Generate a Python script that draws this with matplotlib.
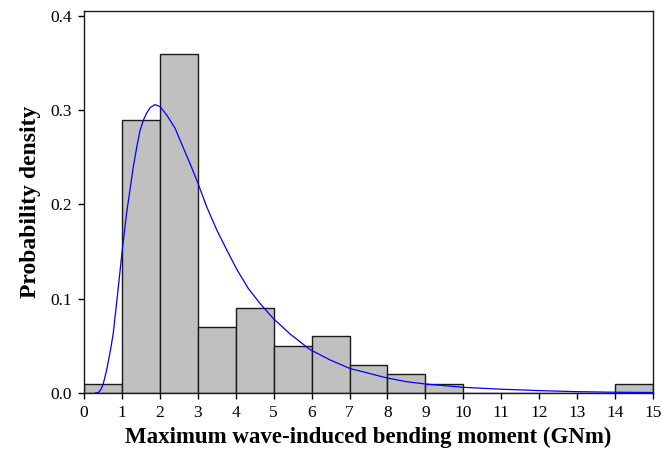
import matplotlib
matplotlib.use("Agg")
import matplotlib.pyplot as plt
import numpy as np

# Histogram of maximum wave-induced bending moment (GNm)
bin_edges = [0, 1, 2, 3, 4, 5, 6, 7, 8, 9, 10, 11, 12, 13, 14, 15]
density = [0.01, 0.29, 0.36, 0.07, 0.09, 0.05, 0.06, 0.03, 0.02, 0.01,
           0.0, 0.0, 0.0, 0.0, 0.01]

# Fitted probability density curve
fit_x = [0.30, 0.38, 0.45, 0.51, 0.60, 0.70, 0.77, 0.88, 1.01, 1.12, 1.21, 1.30,
         1.40, 1.48, 1.57, 1.65, 1.75, 1.87, 2.00, 2.18, 2.40, 2.62, 2.84,
         3.00, 3.23, 3.50, 3.76, 4.03, 4.33, 4.64, 4.99, 5.45,
         5.96, 6.49, 7.01, 7.50, 7.98, 8.50, 8.99, 10.0, 11.01, 12.02,
         12.99, 14.0, 15.0]
fit_y = [0.0, 0.0005, 0.004, 0.010, 0.025, 0.046, 0.063, 0.103, 0.152, 0.190, 0.215, 0.240,
         0.263, 0.279, 0.290, 0.297, 0.303, 0.306, 0.304, 0.295, 0.281, 0.260, 0.239,
         0.223, 0.198, 0.173, 0.152, 0.131, 0.111, 0.095, 0.079, 0.062,
         0.046, 0.035, 0.026, 0.021, 0.016, 0.012, 0.0096, 0.006, 0.004, 0.0025,
         0.0014, 0.0008, 0.0005]

x_ticks = list(range(0, 16))
y_ticks = [0.0, 0.1, 0.2, 0.3, 0.4]

plt.rcParams['font.family'] = ['Liberation Serif', 'DejaVu Serif']

fig = plt.figure(figsize=(6.62, 4.55), dpi=100)
ax = fig.add_axes([0.1269, 0.1363, 0.8595, 0.8395])

lefts = np.array(bin_edges[:-1])
widths = np.diff(bin_edges)
ax.bar(lefts, density, width=widths, align='edge', color='#c0c0c0',
       edgecolor='#1a1a1a', linewidth=1.0, zorder=2)
ax.plot(fit_x, fit_y, color='#0000ff', linewidth=0.9, zorder=3)

ax.set_xlim(0, 15)
ax.set_ylim(0, 0.4053)
ax.set_xticks(x_ticks)
ax.set_xticklabels([str(v) for v in x_ticks])
ax.set_yticks(y_ticks)
ax.set_yticklabels([f"{v:.1f}" for v in y_ticks])
ax.tick_params(direction='out', length=4.5, width=1, labelsize=12.5, colors='black', pad=4)

for s in ax.spines.values():
    s.set_linewidth(1.0)
    s.set_color('#1a1a1a')

ax.set_xlabel('Maximum wave-induced bending moment (GNm)', fontsize=16.5,
              fontweight='bold', labelpad=4)
ax.set_ylabel('Probability density', fontsize=17, fontweight='bold', labelpad=7)

fig.savefig('out.png', dpi=100)
